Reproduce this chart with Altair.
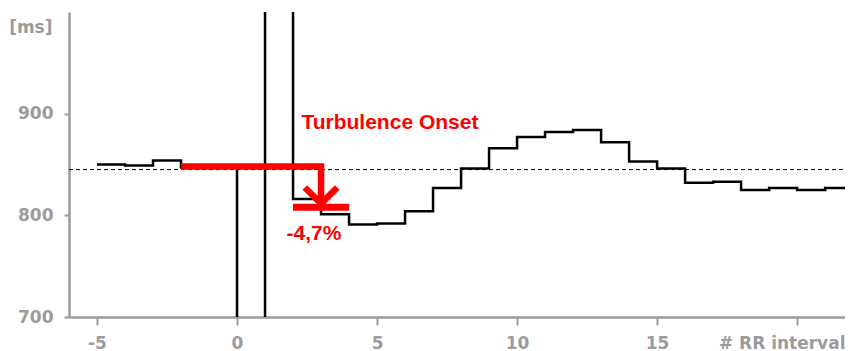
import altair as alt
import pandas as pd

# RR interval tachogram around a premature beat (index 0 = coupling interval, 1 = compensatory pause)
rr_index = list(range(-5, 23))
rr_ms = [850, 849, 854, 847, 847, 600, 1100, 816, 801, 791, 792, 804, 827, 846,
         866, 877, 882, 884, 872, 853, 846, 832, 833, 825, 827, 825, 827, 827]

baseline_ms = 845

# Turbulence onset annotation (mean of the two RR before vs the two after)
onset_path_x = [-2, 3, 3]
onset_path_y = [848, 848, 812]
after_bar_x = [2]
after_bar_x2 = [4]
after_bar_y = [808]
arrow_tip_x = [3]
arrow_tip_y = [811.5]

label_title = "Turbulence Onset"
label_title_pos = (2.3, 885)
label_value = "-4,7%"
label_value_pos = (1.77, 776)

x_ticks = [-5, 0, 5, 10, 15, 20]
y_ticks = [700, 800, 900]
x_domain = [-6, 21.71]
y_domain = [700, 1000]

GRAY = "#9b9b9b"
RED = "#ff0000"

rr_df = pd.DataFrame({"idx": rr_index, "ms": rr_ms})
path_df = pd.DataFrame({"idx": onset_path_x, "ms": onset_path_y, "order": list(range(len(onset_path_x)))})
bar_df = pd.DataFrame({"idx": after_bar_x, "idx2": after_bar_x2, "ms": after_bar_y})
tip_df = pd.DataFrame({"idx": arrow_tip_x, "ms": arrow_tip_y})
base_df = pd.DataFrame({"idx": [x_domain[0]], "idx2": [x_domain[1]], "ms": [baseline_ms]})
txt_df = pd.DataFrame({
    "idx": [label_title_pos[0], label_value_pos[0]],
    "ms": [label_title_pos[1], label_value_pos[1]],
    "t": [label_title, label_value],
})

W, H = 776, 305

xs = alt.Scale(domain=x_domain, nice=False, zero=False)
ys = alt.Scale(domain=y_domain, nice=False, zero=False)

x_axis = alt.Axis(
    values=x_ticks, labelExpr="datum.value == 20 ? '' : '' + datum.value",
    title="# RR interval", titleX=W, titleY=31, titleAlign="right",
    titleBaseline="alphabetic", titleFont="DejaVu Sans", titleFontWeight="bold",
    titleFontSize=17, titleColor=GRAY,
    labelFont="DejaVu Sans", labelFontWeight="bold", labelFontSize=17, labelColor=GRAY,
    labelPadding=10, tickSize=8, tickWidth=2, tickColor=GRAY,
    domainColor=GRAY, domainWidth=2.5, grid=False,
)
y_axis = alt.Axis(
    values=y_ticks, title="[ms]", titleAngle=0, titleX=-17, titleY=15,
    titleAlign="right", titleBaseline="middle", titleFont="DejaVu Sans",
    titleFontWeight="bold", titleFontSize=17, titleColor=GRAY,
    labelFont="DejaVu Sans", labelFontWeight="bold", labelFontSize=17, labelColor=GRAY,
    labelPadding=11, tickSize=5, tickWidth=2, tickColor=GRAY,
    domainColor=GRAY, domainWidth=2.5, grid=False,
)

X = alt.X("idx:Q", scale=xs, axis=x_axis)
Y = alt.Y("ms:Q", scale=ys, axis=y_axis)

baseline = alt.Chart(base_df).mark_rule(color="black", strokeWidth=1, strokeDash=[4, 3]).encode(
    x=X, x2="idx2:Q", y=Y,
)

step = alt.Chart(rr_df).mark_line(interpolate="step-after", color="black", strokeWidth=2.5, clip=True).encode(
    x=X, y=Y,
)

path = alt.Chart(path_df).mark_line(color=RED, strokeWidth=6.5).encode(
    x=X, y=Y, order="order:Q",
)

bar = alt.Chart(bar_df).mark_rule(color=RED, strokeWidth=7).encode(
    x=X, x2="idx2:Q", y=Y,
)

tip = alt.Chart(tip_df).mark_point(
    shape="M-1,-1L0,0L1,-1", size=1050, filled=False, stroke=RED, strokeWidth=6.5, opacity=1
).encode(x=X, y=Y)

texts = alt.Chart(txt_df).mark_text(
    color=RED, font="Liberation Sans", fontWeight="bold", fontSize=21,
    align="left", baseline="alphabetic",
).encode(x=X, y=Y, text="t:N")

chart = alt.layer(baseline, step, path, bar, tip, texts).properties(
    width=W, height=H,
    padding={"left": 61, "top": 4, "right": 0, "bottom": 34},
    autosize=alt.AutoSizeParams(type="none"),
    background="white",
).configure_view(stroke=None)

chart.save("out.html", embed_options={"renderer": "svg", "actions": False})
